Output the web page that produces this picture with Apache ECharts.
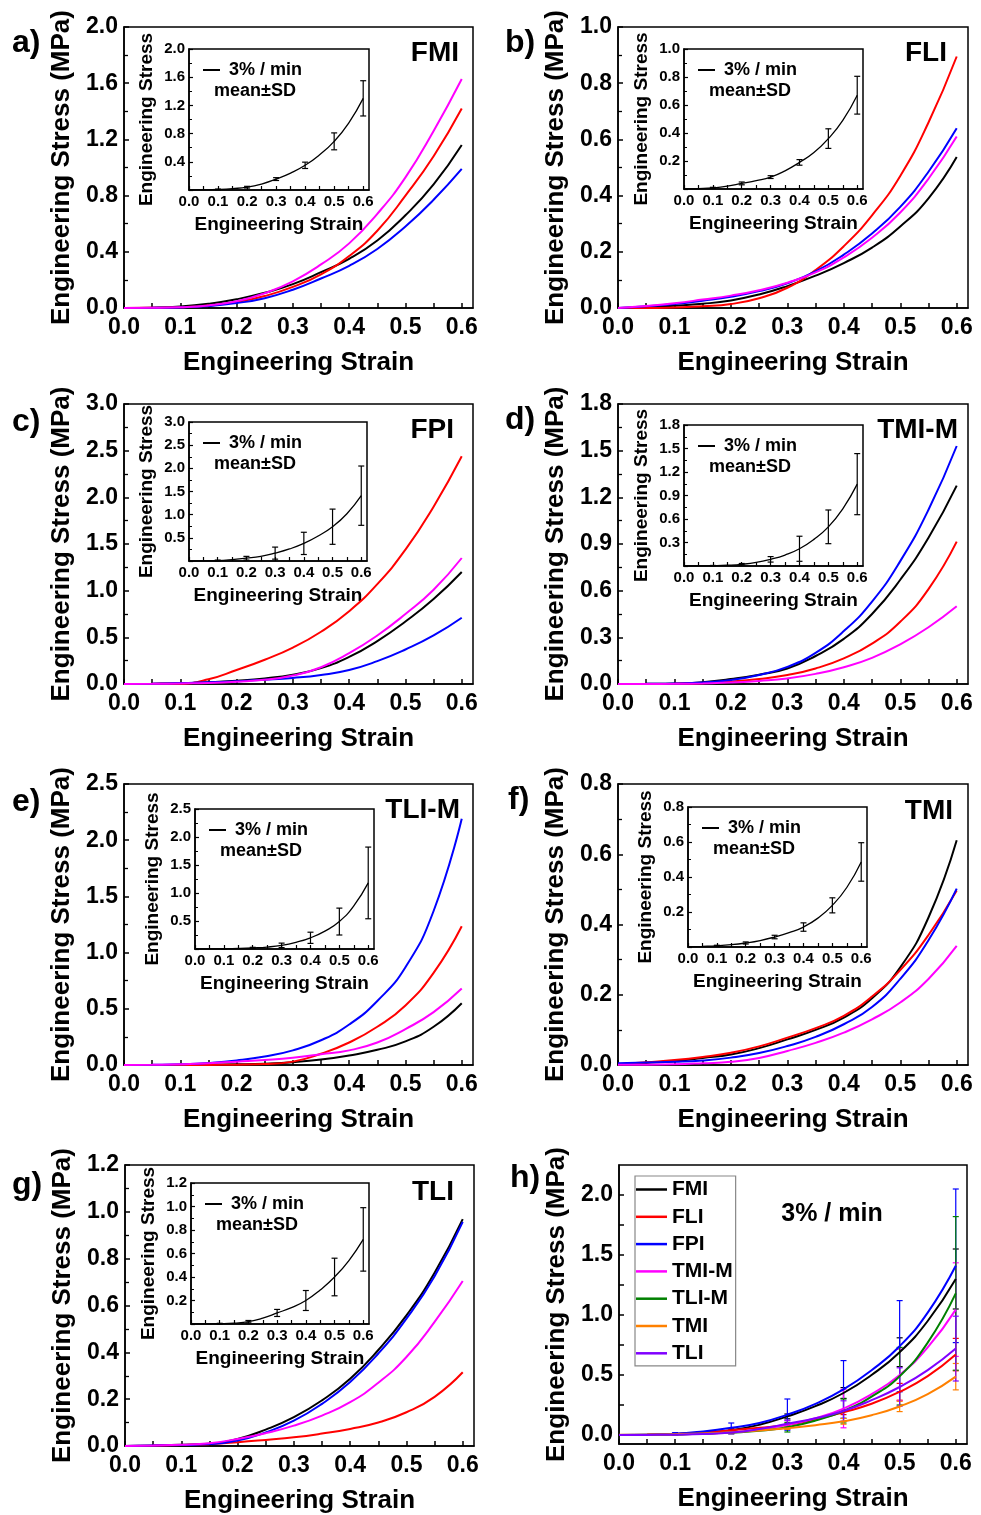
<!DOCTYPE html>
<html>
<head>
<meta charset="utf-8">
<script src="https://cdn.jsdelivr.net/npm/echarts@6/dist/echarts.min.js"></script>
<style>
  html, body { margin: 0; padding: 0; background: #fff; }
  #chart { width: 981px; height: 1515px; }
</style>
</head>
<body>
<div id="chart"></div>
<script>
// strain sampling of all curves
const strain = [0, 0.05, 0.1, 0.15, 0.2, 0.25, 0.3, 0.35, 0.4, 0.45, 0.5, 0.55, 0.6]
const sdStrain = [0.1, 0.2, 0.3, 0.4, 0.5, 0.6]
const strainTicks = [0, 0.05, 0.1, 0.15, 0.2, 0.25, 0.3, 0.35, 0.4, 0.45, 0.5, 0.55, 0.6]
const strainLabels = [0, 0.1, 0.2, 0.3, 0.4, 0.5, 0.6]

const sampleNames = ['FMI', 'FLI', 'FPI', 'TMI-M', 'TLI-M', 'TMI', 'TLI']
const stressMax = [2.0, 1.0, 3.0, 1.8, 2.5, 0.8, 1.2]
const stressStep = [0.4, 0.2, 0.5, 0.3, 0.5, 0.2, 0.2]
const specimenColors = ['#000000', '#ff0000', '#0000ff', '#ff00ff']
const sampleColors = ['#000000', '#ff0000', '#0000ff', '#ff00ff', '#008000', '#ff8000', '#8000ff']

// individual specimens (black, red, blue, magenta), stress in MPa
const fmiSpecimens = [
  [0, 0.002, 0.01, 0.03, 0.062, 0.108, 0.17, 0.255, 0.35, 0.48, 0.66, 0.88, 1.16],
  [0, 0.001, 0.005, 0.017, 0.042, 0.085, 0.15, 0.24, 0.37, 0.55, 0.8, 1.08, 1.42],
  [0, 0.001, 0.004, 0.014, 0.035, 0.07, 0.13, 0.21, 0.3, 0.42, 0.58, 0.77, 0.99],
  [0, 0.001, 0.005, 0.018, 0.048, 0.105, 0.19, 0.31, 0.46, 0.67, 0.93, 1.26, 1.63],
]
const fliSpecimens = [
  [0, 0.003, 0.008, 0.015, 0.027, 0.048, 0.078, 0.115, 0.16, 0.215, 0.29, 0.39, 0.537],
  [0, 0, 0.002, 0.006, 0.014, 0.035, 0.072, 0.135, 0.22, 0.33, 0.47, 0.66, 0.895],
  [0, 0.006, 0.014, 0.026, 0.04, 0.06, 0.088, 0.13, 0.19, 0.265, 0.36, 0.485, 0.64],
  [0, 0.007, 0.017, 0.03, 0.044, 0.063, 0.09, 0.127, 0.18, 0.25, 0.34, 0.46, 0.61],
]
const fpiSpecimens = [
  [0, 0.003, 0.008, 0.018, 0.035, 0.06, 0.1, 0.17, 0.29, 0.46, 0.67, 0.91, 1.2],
  [0, 0.001, 0.004, 0.05, 0.15, 0.26, 0.39, 0.56, 0.78, 1.07, 1.44, 1.9, 2.44],
  [0, 0.004, 0.01, 0.018, 0.03, 0.045, 0.065, 0.097, 0.15, 0.245, 0.37, 0.52, 0.71],
  [0, 0.002, 0.006, 0.012, 0.025, 0.045, 0.09, 0.18, 0.33, 0.52, 0.75, 1.01, 1.35],
]
const tmimSpecimens = [
  [0, 0.001, 0.003, 0.012, 0.032, 0.06, 0.1, 0.18, 0.29, 0.45, 0.67, 0.94, 1.275],
  [0, 0, 0.001, 0.005, 0.015, 0.032, 0.058, 0.1, 0.165, 0.26, 0.4, 0.61, 0.915],
  [0, 0.001, 0.003, 0.01, 0.026, 0.058, 0.11, 0.2, 0.34, 0.53, 0.79, 1.12, 1.53],
  [0, 0, 0.001, 0.004, 0.009, 0.02, 0.036, 0.065, 0.108, 0.168, 0.255, 0.365, 0.5],
]
const tlimSpecimens = [
  [0, 0, 0.001, 0.003, 0.006, 0.012, 0.025, 0.048, 0.085, 0.135, 0.21, 0.34, 0.55],
  [0, 0, 0, 0.001, 0.003, 0.008, 0.03, 0.1, 0.2, 0.34, 0.53, 0.82, 1.235],
  [0, 0.002, 0.006, 0.018, 0.04, 0.075, 0.13, 0.22, 0.36, 0.57, 0.87, 1.37, 2.19],
  [0, 0.002, 0.006, 0.015, 0.03, 0.045, 0.065, 0.095, 0.13, 0.2, 0.32, 0.47, 0.68],
]
const tmiSpecimens = [
  [0.002, 0.006, 0.011, 0.02, 0.03, 0.048, 0.073, 0.1, 0.135, 0.19, 0.278, 0.42, 0.64],
  [0.002, 0.008, 0.014, 0.023, 0.035, 0.053, 0.078, 0.105, 0.14, 0.195, 0.27, 0.37, 0.497],
  [0.005, 0.007, 0.009, 0.013, 0.021, 0.034, 0.054, 0.08, 0.116, 0.165, 0.245, 0.355, 0.502],
  [0.001, 0.001, 0.002, 0.005, 0.009, 0.02, 0.04, 0.063, 0.092, 0.13, 0.178, 0.245, 0.339],
]
const tliSpecimens = [
  [0, 0.002, 0.005, 0.01, 0.03, 0.07, 0.123, 0.195, 0.287, 0.41, 0.558, 0.74, 0.969],
  [0, 0.001, 0.004, 0.008, 0.016, 0.026, 0.037, 0.053, 0.073, 0.1, 0.144, 0.21, 0.315],
  [0, 0.002, 0.004, 0.008, 0.023, 0.058, 0.108, 0.18, 0.273, 0.395, 0.544, 0.725, 0.957],
  [0, 0.002, 0.005, 0.012, 0.03, 0.055, 0.087, 0.13, 0.187, 0.27, 0.38, 0.53, 0.705],
]

// mean curves (on strain) and SD (on sdStrain)
const fmiMean = [0, 0.002, 0.008, 0.02, 0.04, 0.085, 0.155, 0.24, 0.35, 0.5, 0.69, 0.95, 1.3]
const fliMean = [0, 0.003, 0.008, 0.02, 0.04, 0.06, 0.085, 0.13, 0.19, 0.26, 0.36, 0.49, 0.67]
const fpiMean = [0, 0.004, 0.01, 0.03, 0.06, 0.1, 0.17, 0.26, 0.38, 0.54, 0.74, 1.02, 1.41]
const tmimMean = [0, 0.001, 0.004, 0.01, 0.022, 0.045, 0.085, 0.14, 0.22, 0.34, 0.5, 0.73, 1.045]
const tlimMean = [0, 0.001, 0.004, 0.01, 0.02, 0.035, 0.065, 0.12, 0.2, 0.32, 0.49, 0.77, 1.18]
const tmiMean = [0.002, 0.004, 0.007, 0.013, 0.023, 0.037, 0.057, 0.082, 0.114, 0.165, 0.238, 0.34, 0.486]
const tliMean = [0, 0.001, 0.003, 0.008, 0.02, 0.05, 0.094, 0.14, 0.2, 0.29, 0.4, 0.54, 0.72]

const fmiSd = [0.005, 0.012, 0.02, 0.045, 0.12, 0.25]
const fliSd = [0.004, 0.01, 0.01, 0.02, 0.07, 0.135]
const fpiSd = [0.01, 0.04, 0.13, 0.24, 0.38, 0.64]
const tmimSd = [0.003, 0.01, 0.035, 0.16, 0.215, 0.39]
const tlimSd = [0.003, 0.01, 0.04, 0.1, 0.24, 0.64]
const tmiSd = [0.003, 0.006, 0.01, 0.024, 0.043, 0.11]
const tliSd = [0.003, 0.01, 0.03, 0.085, 0.16, 0.27]

// panel h stress axis
const hStressTicks = [0, 0.25, 0.5, 0.75, 1.0, 1.25, 1.5, 1.75, 2.0]
const hStressLabels = [0, 0.5, 1.0, 1.5, 2.0]

const specimens = [fmiSpecimens, fliSpecimens, fpiSpecimens, tmimSpecimens, tlimSpecimens, tmiSpecimens, tliSpecimens]
const means = [fmiMean, fliMean, fpiMean, tmimMean, tlimMean, tmiMean, tliMean]
const sds = [fmiSd, fliSd, fpiSd, tmimSd, tlimSd, tmiSd, tliSd]

// layout in px: [left, top, width, height]
const panels = [
  { main: [124, 27, 349, 281], inset: [189, 49, 180, 141], letter: 'a)', lx: 12, ly: 43, nx: 459, ny: 53 },
  { main: [618, 27, 350, 281], inset: [684, 49, 179, 140], letter: 'b)', lx: 505, ly: 43, nx: 947, ny: 53 },
  { main: [124, 404, 349, 280], inset: [189, 422, 178, 139], letter: 'c)', lx: 12, ly: 422, nx: 454, ny: 430 },
  { main: [618, 404, 350, 280], inset: [684, 425, 179, 141], letter: 'd)', lx: 505, ly: 420, nx: 958, ny: 430 },
  { main: [124, 784, 349, 281], inset: [195, 809, 179, 140], letter: 'e)', lx: 12, ly: 802, nx: 460, ny: 810 },
  { main: [618, 784, 350, 281], inset: [688, 807, 179, 140], letter: 'f)', lx: 508, ly: 800, nx: 953, ny: 811 },
  { main: [125, 1165, 349, 281], inset: [191, 1183, 178, 141], letter: 'g)', lx: 12, ly: 1185, nx: 454, ny: 1192 },
]
const hBox = [619, 1165, 348, 279]

const FONT = '"Liberation Sans", Arial, sans-serif'
const BLACK = '#000'
const SMOOTH = 0.5

const grids = []
const xAxes = []
const yAxes = []
const series = []
const legends = []
const graphics = []

const addGrid = (box) => {
  grids.push({
    left: box[0], top: box[1], width: box[2], height: box[3],
    show: true, borderColor: BLACK, borderWidth: 1.5, backgroundColor: 'transparent',
    containLabel: false, outerBoundsMode: 'none',
  })
  return grids.length - 1
}

const txt = (size) => ({ color: BLACK, fontFamily: FONT, fontWeight: 'bold', fontSize: size })

const strainAxis = (gi, small) => ({
  type: 'value', gridIndex: gi, min: 0, max: 0.62,
  axisLine: { show: true, onZero: false, lineStyle: { color: BLACK, width: 1.5 } },
  axisTick: { show: true, inside: true, length: small ? 4 : 5, customValues: strainTicks,
    lineStyle: { color: BLACK, width: small ? 1.2 : 1.5 } },
  axisLabel: { customValues: strainLabels, formatter: (v) => v.toFixed(1),
    margin: small ? 4 : 8, ...txt(small ? 15 : 23) },
  splitLine: { show: false },
  name: 'Engineering Strain', nameLocation: 'middle', nameGap: small ? 25 : 42,
  nameTextStyle: txt(small ? 19 : 26),
})

const stressAxis = (gi, max, step, small) => ({
  type: 'value', gridIndex: gi, min: 0, max: max, interval: step,
  axisLine: { show: true, onZero: false, lineStyle: { color: BLACK, width: 1.5 } },
  axisTick: { show: true, inside: true, length: small ? 4 : 5, lineStyle: { color: BLACK, width: small ? 1.2 : 1.5 } },
  minorTick: { show: true, splitNumber: 2, length: small ? 3 : 4, lineStyle: { color: BLACK, width: small ? 1 : 1.3 } },
  axisLabel: { formatter: (v) => (small && v === 0 ? '' : v.toFixed(1)), margin: small ? 4 : 6, ...txt(small ? 15 : 23) },
  splitLine: { show: false },
  minorSplitLine: { show: false },
  name: small ? 'Engineering Stress' : 'Engineering Stress (MPa)',
  nameLocation: 'middle', nameGap: small ? 33 : 49,
  nameTextStyle: txt(small ? 19 : 26),
})

const errorBar = (params, api) => {
  const x = api.value(0)
  const m = api.value(1)
  const s = api.value(2)
  const top = api.coord([x, m + s])
  const bot = api.coord([x, m - s])
  const half = 3
  const style = { stroke: api.visual('color'), lineWidth: 1.2, fill: null }
  return {
    type: 'group',
    children: [
      { type: 'line', shape: { x1: top[0], y1: top[1], x2: bot[0], y2: bot[1] }, style },
      { type: 'line', shape: { x1: top[0] - half, y1: top[1], x2: top[0] + half, y2: top[1] }, style },
      { type: 'line', shape: { x1: bot[0] - half, y1: bot[1], x2: bot[0] + half, y2: bot[1] }, style },
    ],
  }
}

const sdData = (mean, sd) => sdStrain.map((x, i) => [x, mean[strain.indexOf(x)], sd[i]])
const curve = (values) => strain.map((x, i) => [x, values[i]])

panels.forEach((p, k) => {
  const name = sampleNames[k]

  // main panel
  const gi = addGrid(p.main)
  xAxes.push(strainAxis(gi, false))
  yAxes.push(stressAxis(gi, stressMax[k], stressStep[k], false))
  specimens[k].forEach((vals, j) => {
    series.push({
      type: 'line', name: `${name} specimen ${j + 1}`, xAxisIndex: gi, yAxisIndex: gi,
      data: curve(vals), smooth: SMOOTH, symbol: 'none',
      lineStyle: { color: specimenColors[j], width: 2 }, itemStyle: { color: specimenColors[j] },
    })
  })

  // inset with mean +- SD
  const ii = addGrid(p.inset)
  xAxes.push(strainAxis(ii, true))
  yAxes.push(stressAxis(ii, stressMax[k], stressStep[k], true))
  series.push({
    type: 'line', name: '3% / min', xAxisIndex: ii, yAxisIndex: ii,
    data: curve(means[k]), smooth: SMOOTH, symbol: 'none',
    lineStyle: { color: BLACK, width: 1.3 }, itemStyle: { color: BLACK },
  })
  series.push({
    type: 'custom', name: `${name} SD`, xAxisIndex: ii, yAxisIndex: ii,
    renderItem: errorBar, data: sdData(means[k], sds[k]), itemStyle: { color: BLACK },
    encode: { x: 0, y: 1 }, z: 4,
  })
  legends.push({
    data: ['3% / min'], left: p.inset[0] + 14, top: p.inset[1] + 12, padding: 0,
    icon: 'rect', itemWidth: 17, itemHeight: 2, selectedMode: false,
    textStyle: { ...txt(18), padding: [0, 0, 0, 4] },
  })

  graphics.push(
    { type: 'text', x: p.inset[0] + 25, y: p.inset[1] + 42,
      style: { text: 'mean±SD', font: `bold 18px ${FONT}`, fill: BLACK, align: 'left', verticalAlign: 'middle' } },
    { type: 'text', x: p.lx, y: p.ly,
      style: { text: p.letter, font: `bold 32px ${FONT}`, fill: BLACK, align: 'left', verticalAlign: 'middle' } },
    { type: 'text', x: p.nx, y: p.ny,
      style: { text: name, font: `bold 28px ${FONT}`, fill: BLACK, align: 'right', verticalAlign: 'middle' } },
  )
})

// panel h: all mean curves
const hi = addGrid(hBox)
xAxes.push(strainAxis(hi, false))
yAxes.push({
  type: 'value', gridIndex: hi, min: -0.075, max: 2.25,
  axisLine: { show: true, onZero: false, lineStyle: { color: BLACK, width: 1.5 } },
  axisTick: { show: true, inside: true, length: 5, customValues: hStressTicks, lineStyle: { color: BLACK, width: 1.5 } },
  axisLabel: { customValues: hStressLabels, formatter: (v) => v.toFixed(1), margin: 6, ...txt(23) },
  splitLine: { show: false },
  name: 'Engineering Stress (MPa)', nameLocation: 'middle', nameGap: 49, nameTextStyle: txt(26),
})
sampleNames.forEach((name, k) => {
  series.push({
    type: 'line', name: name, xAxisIndex: hi, yAxisIndex: hi,
    data: curve(means[k]), smooth: SMOOTH, symbol: 'none',
    lineStyle: { color: sampleColors[k], width: 2 }, itemStyle: { color: sampleColors[k] },
  })
  series.push({
    type: 'custom', name: `${name} SD`, xAxisIndex: hi, yAxisIndex: hi,
    renderItem: errorBar, data: sdData(means[k], sds[k]), itemStyle: { color: sampleColors[k] },
    encode: { x: 0, y: 1 },
  })
})
legends.push({
  data: sampleNames, orient: 'vertical', left: 635, top: 1176,
  padding: [3, 3, 2, 1], itemGap: 6.3, icon: 'rect', itemWidth: 31, itemHeight: 2.5,
  borderColor: '#888', borderWidth: 1.2, selectedMode: false,
  textStyle: { ...txt(21), lineHeight: 21 },
})
graphics.push(
  { type: 'text', x: 510, y: 1178,
    style: { text: 'h)', font: `bold 32px ${FONT}`, fill: BLACK, align: 'left', verticalAlign: 'middle' } },
  { type: 'text', x: 832, y: 1214,
    style: { text: '3% / min', font: `bold 25px ${FONT}`, fill: BLACK, align: 'center', verticalAlign: 'middle' } },
)

const chart = echarts.init(document.getElementById('chart'), null, { renderer: 'canvas' })
chart.setOption({
  animation: false,
  backgroundColor: '#fff',
  grid: grids,
  xAxis: xAxes,
  yAxis: yAxes,
  legend: legends,
  series: series,
  graphic: graphics,
})
</script>
</body>
</html>
